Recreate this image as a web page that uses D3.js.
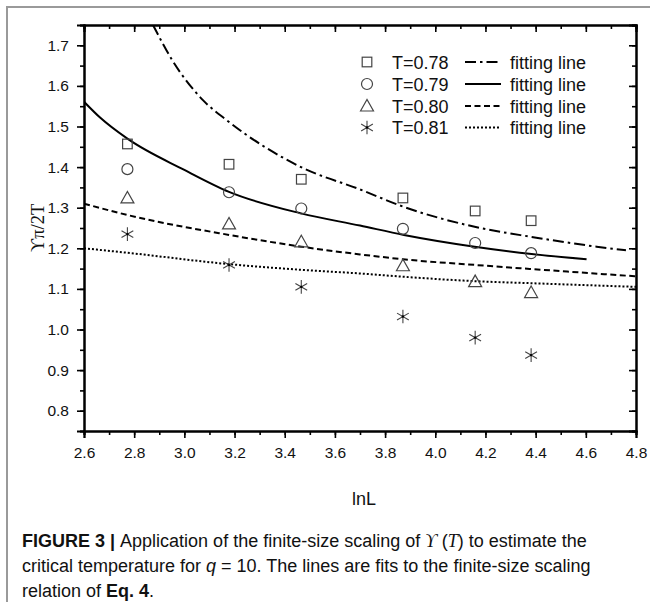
<!DOCTYPE html>
<html>
<head>
<meta charset="utf-8">
<script src="https://cdn.jsdelivr.net/npm/d3@7/dist/d3.min.js"></script>
<style>
  body { margin: 0; background: #fff; }
  text { font-family: "Liberation Sans", Arial, sans-serif; fill: #111; }
</style>
</head>
<body>
<svg id="chart" width="650" height="602"></svg>
<script>
// measured data, x = lnL for L = 16, 24, 32, 48, 64, 80
var lnL = [2.773, 3.178, 3.466, 3.871, 4.159, 4.382];
var t078 = [1.457, 1.407, 1.370, 1.324, 1.292, 1.268];
var t079 = [1.395, 1.338, 1.298, 1.248, 1.213, 1.188];
var t080 = [1.324, 1.260, 1.216, 1.157, 1.118, 1.091];
var t081 = [1.235, 1.159, 1.105, 1.032, 0.980, 0.937];

// fitting lines
var fit078X = [2.875, 2.95, 3.074, 3.168, 3.465, 3.70, 3.875, 4.157, 4.384, 4.643, 4.76];
var fit078Y = [1.750, 1.665, 1.565, 1.516, 1.400, 1.345, 1.302, 1.253, 1.228, 1.204, 1.195];
var fit079X = [2.6, 2.664, 2.773, 3.0, 3.178, 3.465, 3.70, 3.875, 4.157, 4.384, 4.603];
var fit079Y = [1.561, 1.522, 1.470, 1.393, 1.339, 1.286, 1.256, 1.233, 1.204, 1.186, 1.173];
var fit080X = [2.6, 2.773, 3.178, 3.466, 3.70, 3.871, 4.159, 4.382, 4.657, 4.8];
var fit080Y = [1.310, 1.282, 1.233, 1.204, 1.185, 1.173, 1.159, 1.149, 1.137, 1.131];
var fit081X = [2.6, 2.773, 3.178, 3.466, 3.70, 3.871, 4.159, 4.382, 4.8];
var fit081Y = [1.200, 1.189, 1.161, 1.147, 1.138, 1.130, 1.119, 1.114, 1.105];

var legendLabels = ['T=0.78', 'T=0.79', 'T=0.80', 'T=0.81'];
var xTicks = [2.6, 2.8, 3.0, 3.2, 3.4, 3.6, 3.8, 4.0, 4.2, 4.4, 4.6, 4.8];
var yTicks = [0.8, 0.9, 1.0, 1.1, 1.2, 1.3, 1.4, 1.5, 1.6, 1.7];

var svg = d3.select('#chart');
var plot = { left: 84, right: 636, top: 25, bottom: 431 };

var x = d3.scaleLinear().domain([2.6, 4.8]).range([plot.left, plot.right]);
var y = d3.scaleLinear().domain([0.75, 1.75]).range([plot.bottom, plot.top]);

// figure border (grey frame of the journal figure)
svg.append('path')
  .attr('d', 'M7,602 L7,7 L650,7')
  .attr('fill', 'none').attr('stroke', '#9a9a9a').attr('stroke-width', 2);

var xMinor = d3.range(26, 49).map(function (d) { return d / 10; });
var yMinor = d3.range(15, 36).map(function (d) { return d / 20; });

function fmt(d) { return d3.format('.1f')(d); }

// bottom axis
svg.append('g').attr('transform', 'translate(0,' + plot.bottom + ')')
  .call(d3.axisBottom(x).tickValues(xMinor).tickSize(4).tickFormat(''));
svg.append('g').attr('class', 'xaxis').attr('transform', 'translate(0,' + plot.bottom + ')')
  .call(d3.axisBottom(x).tickValues(xTicks).tickSize(7).tickPadding(9).tickFormat(fmt));
// top axis (inward)
svg.append('g').attr('transform', 'translate(0,' + plot.top + ')')
  .call(d3.axisTop(x).tickValues(xMinor).tickSize(-4).tickFormat(''));
svg.append('g').attr('transform', 'translate(0,' + plot.top + ')')
  .call(d3.axisTop(x).tickValues(xTicks).tickSize(-7).tickFormat(''));
// left axis
svg.append('g').attr('transform', 'translate(' + plot.left + ',0)')
  .call(d3.axisLeft(y).tickValues(yMinor).tickSize(4).tickFormat(''));
svg.append('g').attr('class', 'yaxis').attr('transform', 'translate(' + plot.left + ',0)')
  .call(d3.axisLeft(y).tickValues(yTicks).tickSize(7).tickPadding(8).tickFormat(fmt));
// right axis (inward)
svg.append('g').attr('transform', 'translate(' + plot.right + ',0)')
  .call(d3.axisRight(y).tickValues(yMinor).tickSize(-4).tickFormat(''));
svg.append('g').attr('transform', 'translate(' + plot.right + ',0)')
  .call(d3.axisRight(y).tickValues(yTicks).tickSize(-7).tickFormat(''));

svg.selectAll('.domain').attr('stroke', '#000').attr('stroke-width', 2);
svg.selectAll('.tick line').attr('stroke', '#000').attr('stroke-width', 1.6);
svg.selectAll('.tick text').style('font-size', '15.5px').attr('fill', '#111');

// fitting lines
var line = d3.line().curve(d3.curveMonotoneX)
  .x(function (d) { return x(d[0]); })
  .y(function (d) { return y(d[1]); });

var fits = [
  { xs: fit078X, ys: fit078Y, dash: '11,4,2.5,4' },
  { xs: fit079X, ys: fit079Y, dash: null },
  { xs: fit080X, ys: fit080Y, dash: '6,3.5' },
  { xs: fit081X, ys: fit081Y, dash: '2,2' }
];

svg.append('defs').append('clipPath').attr('id', 'clip')
  .append('rect').attr('x', plot.left).attr('y', plot.top)
  .attr('width', plot.right - plot.left).attr('height', plot.bottom - plot.top);

svg.append('g').attr('clip-path', 'url(#clip)')
  .selectAll('path').data(fits).enter().append('path')
  .attr('d', function (f) { return line(d3.zip(f.xs, f.ys)); })
  .attr('fill', 'none').attr('stroke', '#000').attr('stroke-width', 2)
  .attr('stroke-dasharray', function (f) { return f.dash; });

// marker shapes
var markerColor = '#444';
function drawMarker(g, kind, cx, cy) {
  if (kind === 0) {
    g.append('rect').attr('x', cx - 4.8).attr('y', cy - 4.8).attr('width', 9.6).attr('height', 9.6)
      .attr('fill', 'none').attr('stroke', markerColor).attr('stroke-width', 1.2);
  } else if (kind === 1) {
    g.append('circle').attr('cx', cx).attr('cy', cy).attr('r', 5.5)
      .attr('fill', 'none').attr('stroke', markerColor).attr('stroke-width', 1.2);
  } else if (kind === 2) {
    g.append('path')
      .attr('d', 'M' + (cx - 6.5) + ',' + (cy + 5) + 'L' + cx + ',' + (cy - 6.5) + 'L' + (cx + 6.5) + ',' + (cy + 5) + 'Z')
      .attr('fill', 'none').attr('stroke', markerColor).attr('stroke-width', 1.2);
  } else {
    var r = 6.8, p = '';
    [90, 30, -30].forEach(function (a) {
      var rad = a * Math.PI / 180, dx = r * Math.cos(rad), dy = r * Math.sin(rad);
      p += 'M' + (cx - dx) + ',' + (cy + dy) + 'L' + (cx + dx) + ',' + (cy - dy);
    });
    g.append('path').attr('d', p).attr('fill', 'none').attr('stroke', markerColor).attr('stroke-width', 1.1);
    g.append('circle').attr('cx', cx).attr('cy', cy).attr('r', 1.2).attr('fill', '#000');
  }
}

var pointSeries = [t078, t079, t080, t081];
var pts = svg.append('g');
pointSeries.forEach(function (vals, k) {
  vals.forEach(function (v, i) { drawMarker(pts, k, x(lnL[i]), y(v)); });
});

// legend
var leg = svg.append('g');
var rowY = [62, 84, 106, 127.5];
legendLabels.forEach(function (lab, k) {
  var cy = rowY[k];
  drawMarker(leg, k, 367, cy);
  leg.append('text').attr('x', 392).attr('y', cy + 6.5).style('font-size', '18px').text(lab);
  leg.append('line').attr('x1', 465).attr('x2', 501).attr('y1', cy).attr('y2', cy)
    .attr('stroke', '#000').attr('stroke-width', 2).attr('stroke-dasharray', fits[k].dash);
  leg.append('text').attr('x', 510).attr('y', cy + 6.5).style('font-size', '18px').text('fitting line');
});

// axis titles
svg.append('text').attr('x', 364).attr('y', 505).attr('text-anchor', 'middle')
  .style('font-size', '18px').text('lnL');
svg.append('text').attr('transform', 'translate(44,' + (plot.top + plot.bottom) / 2 + ') rotate(-90)')
  .attr('text-anchor', 'middle')
  .style('font-family', '"Liberation Serif", "DejaVu Serif", serif').style('font-size', '18.5px')
  .text('ϒπ/2T');

// caption
var cap = svg.append('text').style('font-size', '18px');
var l1 = cap.append('tspan').attr('x', 22).attr('y', 547);
l1.append('tspan').style('font-weight', 'bold').text('FIGURE 3 | ');
l1.append('tspan').text('Application of the finite-size scaling of ');
l1.append('tspan').style('font-family', '"Liberation Serif", serif').style('font-style', 'italic').text('ϒ');
l1.append('tspan').text(' (');
l1.append('tspan').style('font-family', '"Liberation Serif", serif').style('font-style', 'italic').text('T');
l1.append('tspan').text(') to estimate the');
var l2 = cap.append('tspan').attr('x', 22).attr('y', 572);
l2.append('tspan').text('critical temperature for ');
l2.append('tspan').style('font-style', 'italic').text('q');
l2.append('tspan').text(' = 10. The lines are fits to the finite-size scaling');
var l3 = cap.append('tspan').attr('x', 22).attr('y', 597);
l3.append('tspan').text('relation of ');
l3.append('tspan').style('font-weight', 'bold').text('Eq. 4');
l3.append('tspan').text('.');
</script>
</body>
</html>
